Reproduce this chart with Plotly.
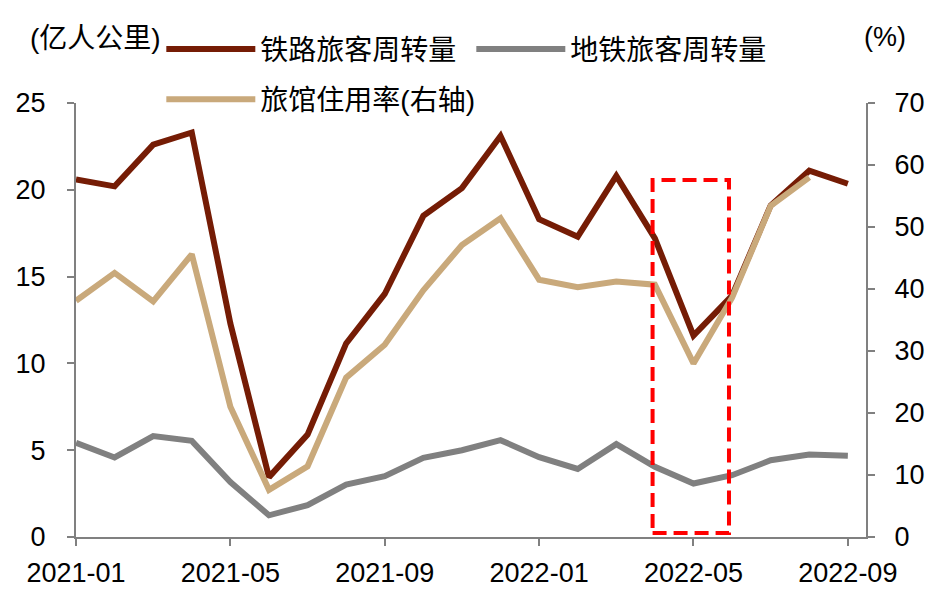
import plotly.graph_objects as go

months = ["2021-01", "2021-02", "2021-03", "2021-04", "2021-05", "2021-06", "2021-07",
          "2021-08", "2021-09", "2021-10", "2021-11", "2021-12", "2022-01", "2022-02",
          "2022-03", "2022-04", "2022-05", "2022-06", "2022-07", "2022-08", "2022-09"]

rail = [20.6, 20.2, 22.6, 23.3, 12.3, 3.45, 5.9, 11.15, 14.0, 18.5, 20.1, 23.1,
        18.3, 17.3, 20.8, 17.2, 11.6, 13.9, 19.1, 21.1, 20.35]
metro = [5.42, 4.58, 5.81, 5.54, 3.17, 1.25, 1.83, 3.02, 3.5, 4.56, 5.0, 5.58,
         4.6, 3.92, 5.35, 4.04, 3.08, 3.56, 4.42, 4.75, 4.68]
hotel = [38.1, 42.6, 38.0, 45.6, 21.0, 7.6, 11.4, 25.7, 31.0, 39.8, 47.1, 51.4,
         41.5, 40.3, 41.2, 40.7, 28.0, 38.6, 53.4, 58.0, None]

tick_vals = ["2021-01", "2021-05", "2021-09", "2022-01", "2022-05", "2022-09"]
names = ["铁路旅客周转量", "地铁旅客周转量", "旅馆住用率(右轴)"]
left_unit = "(亿人公里)"
right_unit = "(%)"

C_RAIL = "#751C05"
C_METRO = "#808080"
C_HOTEL = "#C9A97B"
AX = "#808080"
FONT = "Liberation Sans, Arial, Noto Sans CJK SC, sans-serif"

fig = go.Figure()
fig.add_trace(go.Scatter(x=months, y=rail, name=names[0], mode="lines",
                         line=dict(color=C_RAIL, width=6), legend="legend"))
fig.add_trace(go.Scatter(x=months, y=metro, name=names[1], mode="lines",
                         line=dict(color=C_METRO, width=6), legend="legend"))
fig.add_trace(go.Scatter(x=months, y=hotel, name=names[2], mode="lines", yaxis="y2",
                         line=dict(color=C_HOTEL, width=6), legend="legend2",
                         connectgaps=False))

# highlighted window (2022-04 .. 2022-06)
fig.add_shape(type="rect", xref="x", yref="y", x0=14.94, x1=16.92, y0=0.23, y1=20.57,
              line=dict(color="#FF0000", width=4, dash="14px,7px"), layer="above")

fig.update_layout(
    width=942, height=590,
    margin=dict(l=76, r=76, t=103, b=53, autoexpand=False),
    paper_bgcolor="white", plot_bgcolor="white",
    font=dict(family=FONT, size=27, color="black"),
    showlegend=True,
    legend=dict(orientation="h", x=0.108, y=1.124, xanchor="left", yanchor="middle",
                font=dict(size=28), itemwidth=89, entrywidth=206, entrywidthmode="pixels",
                bgcolor="rgba(0,0,0,0)", traceorder="normal"),
    legend2=dict(orientation="h", x=0.108, y=1.008, xanchor="left", yanchor="middle",
                 font=dict(size=28), itemwidth=89, bgcolor="rgba(0,0,0,0)"),
    xaxis=dict(type="category", range=[0, 20.47], tickmode="array", tickvals=tick_vals,
               ticktext=tick_vals, showline=True, linecolor=AX, linewidth=2,
               ticks="outside", tickcolor=AX, ticklen=7, tickwidth=2,
               showgrid=False, zeroline=False, tickfont=dict(size=27),
               ticklabelstandoff=4),
    yaxis=dict(range=[0, 25], tickvals=[0, 5, 10, 15, 20, 25], showline=True,
               linecolor=AX, linewidth=2, ticks="outside", tickcolor=AX, ticklen=7,
               tickwidth=2, showgrid=False, zeroline=False, tickfont=dict(size=27),
               ticklabelstandoff=16),
    yaxis2=dict(range=[0, 70], tickvals=[0, 10, 20, 30, 40, 50, 60, 70], overlaying="y",
                side="right", showline=True, linecolor=AX, linewidth=2, ticks="outside",
                tickcolor=AX, ticklen=7, tickwidth=2, showgrid=False, zeroline=False,
                tickfont=dict(size=27), ticklabelstandoff=14),
)

fig.add_annotation(text=left_unit, xref="paper", yref="paper", x=-0.061, y=1.148,
                   xanchor="left", yanchor="middle", showarrow=False, font=dict(size=28))
fig.add_annotation(text=right_unit, xref="paper", yref="paper", x=1.024, y=1.152,
                   xanchor="center", yanchor="middle", showarrow=False, font=dict(size=27))

fig.write_html("out.html", config={"displayModeBar": False},
               post_script="document.body.style.margin='0';")
